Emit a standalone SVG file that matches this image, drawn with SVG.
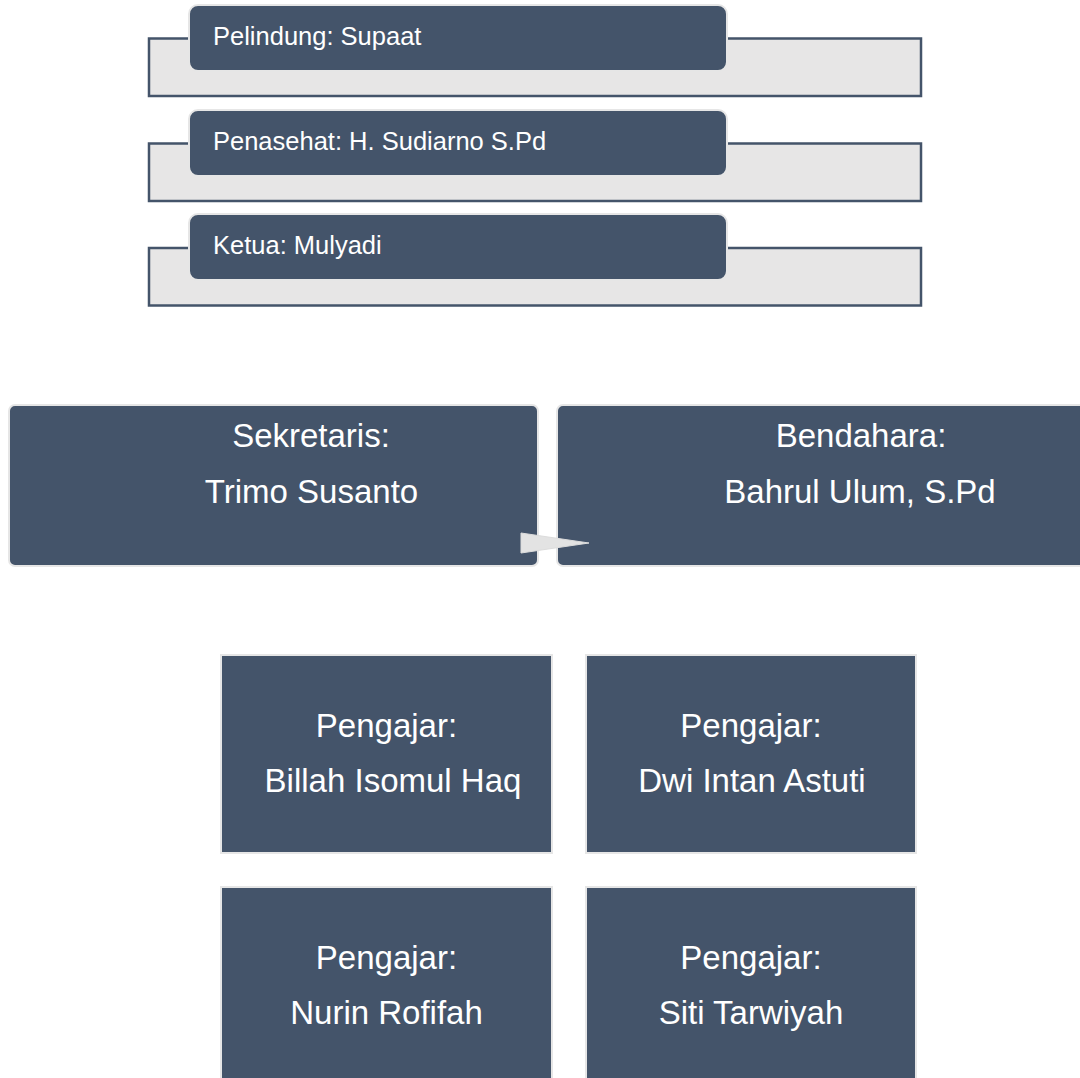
<svg xmlns="http://www.w3.org/2000/svg" width="1080" height="1078" viewBox="0 0 1080 1078">
  <style>
    .band { fill: #e7e6e6; stroke: #44546a; stroke-width: 2.5; }
    .box { fill: #44546a; stroke: #e6e6e6; stroke-width: 2; }
    .lbl { font-family: "Liberation Sans", Arial, sans-serif; fill: #ffffff; }
    .small { font-size: 25.5px; }
    .big { font-size: 33px; text-anchor: middle; }
    .arrow { fill: #e3e3e3; stroke: #dcdcdc; stroke-width: 1; }
  </style>
  <rect width="1080" height="1078" fill="#ffffff"/>

  <g id="pelindung">
    <rect class="band" x="149" y="38.5" width="772" height="57.5"/>
    <rect class="box" x="189" y="5" width="538" height="66" rx="9"/>
    <text class="lbl small" x="213" y="45">Pelindung: Supaat</text>
  </g>

  <g id="penasehat">
    <rect class="band" x="149" y="143.5" width="772" height="57.5"/>
    <rect class="box" x="189" y="110" width="538" height="66" rx="9"/>
    <text class="lbl small" x="213" y="150">Penasehat: H. Sudiarno S.Pd</text>
  </g>

  <g id="ketua">
    <rect class="band" x="149" y="248" width="772" height="57.5"/>
    <rect class="box" x="189" y="214" width="538" height="66" rx="9"/>
    <text class="lbl small" x="213" y="254">Ketua: Mulyadi</text>
  </g>

  <g id="sekretaris">
    <rect class="box" x="9" y="405" width="529" height="161" rx="6"/>
    <text class="lbl big" x="311" y="447">Sekretaris:</text>
    <text class="lbl big" x="311.5" y="503">Trimo Susanto</text>
  </g>

  <g id="bendahara">
    <rect class="box" x="557" y="405" width="610" height="161" rx="6"/>
    <text class="lbl big" x="861" y="447">Bendahara:</text>
    <text class="lbl big" x="860" y="503">Bahrul Ulum, S.Pd</text>
  </g>

  <g id="connectors">
    <polygon class="arrow" points="521,533 521,553 589,543"/>
  </g>

  <g id="pengajar1">
    <rect class="box" x="221" y="655" width="331" height="198"/>
    <text class="lbl big" x="386.5" y="737">Pengajar:</text>
    <text class="lbl big" x="393" y="792">Billah Isomul Haq</text>
  </g>

  <g id="pengajar2">
    <rect class="box" x="586" y="655" width="330" height="198"/>
    <text class="lbl big" x="751" y="737">Pengajar:</text>
    <text class="lbl big" x="752" y="792">Dwi Intan Astuti</text>
  </g>

  <g id="pengajar3">
    <rect class="box" x="221" y="887" width="331" height="200"/>
    <text class="lbl big" x="386.5" y="969">Pengajar:</text>
    <text class="lbl big" x="386.5" y="1024">Nurin Rofifah</text>
  </g>

  <g id="pengajar4">
    <rect class="box" x="586" y="887" width="330" height="200"/>
    <text class="lbl big" x="751" y="969">Pengajar:</text>
    <text class="lbl big" x="751" y="1024">Siti Tarwiyah</text>
  </g>
</svg>
